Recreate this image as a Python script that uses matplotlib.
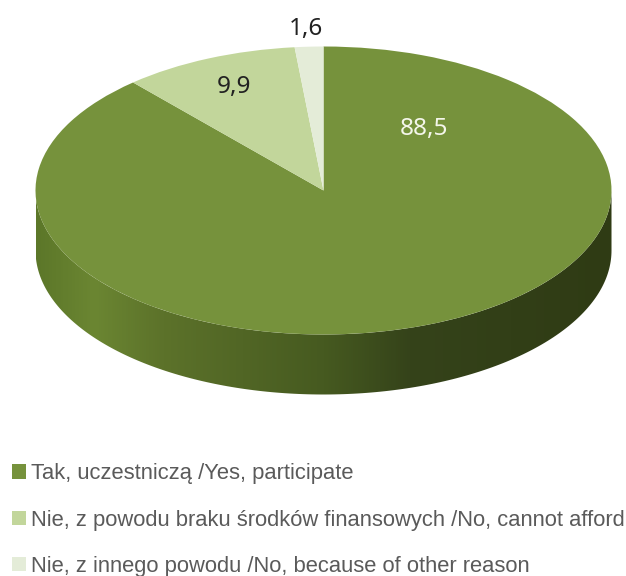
import numpy as np
import matplotlib
matplotlib.use("Agg")
import matplotlib.pyplot as plt
from matplotlib.colors import LinearSegmentedColormap
from matplotlib.patches import Polygon

labels = ["Tak, uczestniczą /Yes, participate",
          "Nie, z powodu braku środków finansowych /No, cannot afford",
          "Nie, z innego powodu /No, because of other reason"]
values = [88.5, 9.9, 1.6]
value_labels = ["88,5", "9,9", "1,6"]
colors = ["#76923c", "#c2d69b", "#e4ecd8"]
label_colors = ["#f4f6ea", "#222222", "#222222"]

W, H = 626, 576
fig = plt.figure(figsize=(W / 100, H / 100), dpi=100, facecolor="white")

# Pie geometry in pixels
cx, cy, rx, ry, depth = 323.5, 190.5, 288, 144, 60
# Axes spans the ellipse horizontally; ylim extends down for the side wall
bottom_px = cy + ry + depth
ax = fig.add_axes([(cx - rx) / W, 1 - bottom_px / H, 2 * rx / W, (2 * ry + depth) / H])
d = depth / ry

wedges, _ = ax.pie(values, colors=colors, startangle=90, counterclock=False,
                   radius=1, wedgeprops=dict(linewidth=0))
for w in wedges:
    w.set_zorder(3)
ax.set_aspect("auto")
ax.axis("off")

# Side wall with a horizontal gradient
t = np.linspace(np.pi, 2 * np.pi, 200)
xs = np.cos(t)
ys = np.sin(t)
verts = np.r_[np.c_[xs, ys], np.c_[xs[::-1], ys[::-1] - d]]
wall = Polygon(verts, closed=True, transform=ax.transData, facecolor="none", edgecolor="none")
ax.add_patch(wall)
cmap = LinearSegmentedColormap.from_list("wall", [
    (0.00, "#5c7729"), (0.10, "#6b8632"), (0.22, "#5c722a"),
    (0.50, "#465a20"), (0.65, "#35431a"), (1.00, "#2f3b14")])
im = ax.imshow(np.linspace(0, 1, 512)[None, :], extent=(-1, 1, -1 - d, 0), cmap=cmap,
               aspect="auto", zorder=1, vmin=0, vmax=1)
im.set_clip_path(wall)
ax.set_xlim(-1, 1)
ax.set_ylim(-1 - d, 1)

# Value labels
label_pos = [(424, 129), (234, 87), (306, 29)]
for txt, c, (px, py) in zip(value_labels, label_colors, label_pos):
    fig.text(px / W, 1 - py / H, txt, color=c, ha="center", va="center",
             fontsize=17.5, family="Noto Sans")

# Legend
handles = wedges
leg = fig.legend(handles, labels, loc="lower left", bbox_to_anchor=(12 / W, 1 - 577 / H),
                 bbox_transform=fig.transFigure, frameon=False, ncol=1,
                 prop=dict(family="Liberation Sans", size=15.85), labelcolor="#5a5a5a",
                 handlelength=0.62, handleheight=0.62, handletextpad=0.26,
                 labelspacing=1.15, borderpad=0, borderaxespad=0)

fig.savefig("out.png", dpi=100, facecolor="white")
